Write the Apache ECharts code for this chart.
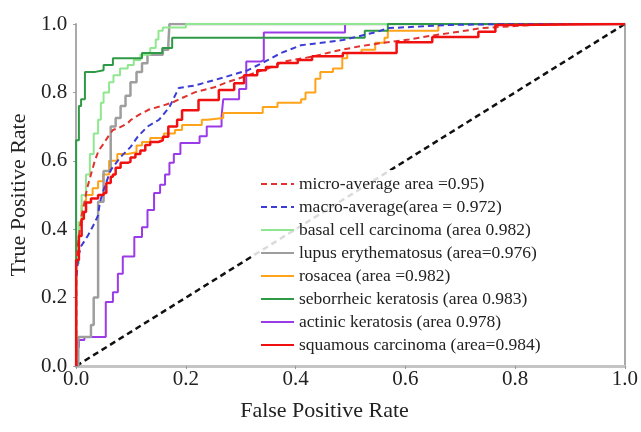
<!DOCTYPE html>
<html>
<head>
<meta charset="utf-8">
<script src="https://cdn.jsdelivr.net/npm/echarts@6/dist/echarts.min.js"></script>
<style>
  html, body { margin: 0; padding: 0; background: #fff; }
  #main { width: 641px; height: 432px; }
</style>
</head>
<body>
<div id="main"></div>
<script>
// ROC points [fpr, tpr]
let xTicks = ['0.0', '0.2', '0.4', '0.6', '0.8', '1.0'];
let yTicks = ['0.0', '0.2', '0.4', '0.6', '0.8', '1.0'];

let microAvg = [[0,0],[0,0.3],[0.005,0.38],[0.01,0.44],[0.014,0.47],[0.02,0.52],[0.027,0.56],[0.034,0.6],[0.041,0.63],[0.05,0.65],[0.058,0.67],[0.067,0.69],[0.076,0.695],[0.094,0.71],[0.1,0.72],[0.115,0.735],[0.133,0.75],[0.155,0.76],[0.175,0.77],[0.195,0.785],[0.216,0.8],[0.252,0.815],[0.275,0.83],[0.295,0.84],[0.33,0.86],[0.35,0.87],[0.378,0.89],[0.432,0.905],[0.47,0.92],[0.517,0.935],[0.56,0.945],[0.607,0.955],[0.656,0.968],[0.7,0.978],[0.739,0.988],[0.83,0.997],[0.9,1],[1,1]];
let macroAvg = [[0,0],[0,0.25],[0.004,0.32],[0.009,0.35],[0.022,0.383],[0.031,0.41],[0.04,0.44],[0.043,0.477],[0.05,0.515],[0.063,0.573],[0.081,0.611],[0.099,0.64],[0.112,0.67],[0.13,0.7],[0.151,0.72],[0.17,0.757],[0.187,0.813],[0.216,0.82],[0.265,0.842],[0.313,0.865],[0.35,0.895],[0.373,0.915],[0.41,0.938],[0.486,0.953],[0.548,0.977],[0.57,0.988],[0.68,0.997],[0.78,1],[1,1]];
let basalCell = [[0,0],[0,0.3],[0.005,0.42],[0.01,0.5],[0.018,0.56],[0.025,0.62],[0.032,0.68],[0.04,0.72],[0.045,0.77],[0.05,0.8],[0.06,0.83],[0.068,0.85],[0.08,0.87],[0.094,0.88],[0.105,0.895],[0.117,0.91],[0.135,0.93],[0.145,0.955],[0.15,0.98],[0.158,0.99],[0.2,1],[1,1]];
let lupus = [[0,0],[0.004,0.085],[0.027,0.12],[0.032,0.2],[0.04,0.48],[0.05,0.57],[0.063,0.7],[0.072,0.725],[0.081,0.76],[0.09,0.79],[0.099,0.83],[0.11,0.86],[0.12,0.885],[0.13,0.91],[0.158,0.925],[0.168,0.94],[0.17,1],[1,1]];
let rosacea = [[0,0],[0,0.35],[0.005,0.42],[0.01,0.47],[0.018,0.5],[0.03,0.52],[0.04,0.54],[0.049,0.56],[0.06,0.6],[0.075,0.62],[0.094,0.625],[0.11,0.645],[0.12,0.655],[0.135,0.667],[0.16,0.68],[0.18,0.69],[0.193,0.705],[0.229,0.72],[0.24,0.725],[0.268,0.74],[0.34,0.757],[0.367,0.77],[0.41,0.78],[0.418,0.8],[0.436,0.84],[0.445,0.86],[0.468,0.87],[0.485,0.9],[0.494,0.915],[0.52,0.925],[0.545,0.945],[0.562,0.96],[0.568,0.98],[0.66,1],[1,1]];
let seborrheic = [[0,0],[0,0.66],[0.005,0.76],[0.009,0.78],[0.016,0.86],[0.035,0.865],[0.05,0.88],[0.067,0.9],[0.12,0.915],[0.157,0.93],[0.175,0.96],[0.526,0.98],[0.568,1],[1,1]];
let actinic = [[0,0],[0,0.055],[0.005,0.076],[0.015,0.085],[0.054,0.187],[0.067,0.216],[0.076,0.27],[0.085,0.32],[0.106,0.377],[0.12,0.406],[0.13,0.456],[0.142,0.506],[0.153,0.53],[0.162,0.56],[0.17,0.594],[0.178,0.62],[0.19,0.652],[0.225,0.672],[0.238,0.7],[0.265,0.73],[0.268,0.78],[0.297,0.81],[0.31,0.89],[0.337,0.895],[0.342,0.975],[0.49,1],[1,1]];
let squamous = [[0,0],[0,0.31],[0.005,0.38],[0.01,0.43],[0.014,0.45],[0.018,0.478],[0.027,0.49],[0.04,0.5],[0.05,0.506],[0.055,0.535],[0.063,0.553],[0.067,0.56],[0.072,0.58],[0.081,0.594],[0.094,0.597],[0.099,0.61],[0.108,0.62],[0.117,0.63],[0.126,0.646],[0.135,0.655],[0.15,0.66],[0.158,0.67],[0.168,0.7],[0.184,0.72],[0.193,0.748],[0.223,0.778],[0.26,0.807],[0.288,0.827],[0.306,0.85],[0.33,0.865],[0.346,0.874],[0.367,0.886],[0.404,0.895],[0.43,0.906],[0.486,0.915],[0.584,0.947],[0.649,0.962],[0.733,0.977],[0.764,0.997],[0.79,1],[1,1]];
let chance = [[0,0],[1,1]];

let names = [
  'micro-average area =0.95)',
  'macro-average(area = 0.972)',
  'basal cell carcinoma (area 0.982)',
  'lupus erythematosus (area=0.976)',
  'rosacea (area =0.982)',
  'seborrheic keratosis (area 0.983)',
  'actinic keratosis (area 0.978)',
  'squamous carcinoma (area=0.984)'
];

let font = '"Liberation Serif", "Times New Roman", serif';
let charts = echarts.init(document.querySelector('#main'));

function curve(name, data, color, width, dashed, step) {
  return {
    name: name,
    type: 'line',
    data: data,
    step: step ? 'end' : false,
    symbol: 'none',
    animation: false,
    lineStyle: { color: color, width: width, type: dashed ? [6, 4] : 'solid' },
    itemStyle: { color: color }
  };
}

charts.setOption({
  backgroundColor: '#fff',
  grid: { left: 73, right: 13, top: 24, bottom: 66 },
  legend: {
    orient: 'vertical',
    left: 254,
    top: 170,
    itemWidth: 33,
    itemHeight: 14,
    itemGap: 5,
    padding: [5, 6, 5, 6],
    backgroundColor: 'rgba(255,255,255,0.85)',
    itemStyle: { opacity: 0 },
    textStyle: { fontFamily: font, fontSize: 17.5, lineHeight: 18, color: '#222' },
    data: names
  },
  xAxis: {
    type: 'value', min: 0, max: 1, interval: 0.2,
    name: 'False Positive Rate', nameLocation: 'middle', nameGap: 34,
    nameTextStyle: { fontFamily: font, fontSize: 22, color: '#222', padding: [0, 52, 0, 0] },
    axisLine: { lineStyle: { color: '#c4c4c4', width: 3 } },
    axisTick: { show: true, length: 3, lineStyle: { color: '#999' } },
    axisLabel: { fontFamily: font, fontSize: 21, color: '#222', margin: 3,
      formatter: v => xTicks[Math.round(v / 0.2)] },
    splitLine: { show: false }
  },
  yAxis: [{
    type: 'value', min: 0, max: 1, interval: 0.2,
    name: 'True Positive Rate', nameLocation: 'middle', nameGap: 46,
    nameTextStyle: { fontFamily: font, fontSize: 22, color: '#222' },
    axisLine: { show: true, lineStyle: { color: '#aaa', width: 2 } },
    axisTick: { show: true, length: 3, lineStyle: { color: '#999' } },
    axisLabel: { fontFamily: font, fontSize: 21, color: '#222', margin: 9,
      formatter: v => yTicks[Math.round(v / 0.2)] },
    splitLine: { show: false }
  }, {
    type: 'value', min: 0, max: 1, position: 'right',
    axisLine: { show: true, lineStyle: { color: '#aaa', width: 2 } },
    axisTick: { show: false }, axisLabel: { show: false }, splitLine: { show: false }
  }],
  series: [
    {
      type: 'line', data: chance, symbol: 'none', animation: false, silent: true,
      lineStyle: { color: '#111', width: 2.5, type: [6, 4] }
    },
    curve(names[6], actinic, '#9b3be8', 2, false, true),
    curve(names[4], rosacea, '#ffa31a', 2, false, true),
    curve(names[3], lupus, '#9e9e9e', 2.5, false, true),
    curve(names[2], basalCell, '#8fe88f', 2, false, true),
    curve(names[5], seborrheic, '#2f9a45', 2, false, true),
    curve(names[1], macroAvg, '#3b3bd6', 2, true, false),
    curve(names[0], microAvg, '#e0332e', 2, true, false),
    curve(names[7], squamous, '#f01010', 2.5, false, true)
  ]
});
</script>
</body>
</html>
